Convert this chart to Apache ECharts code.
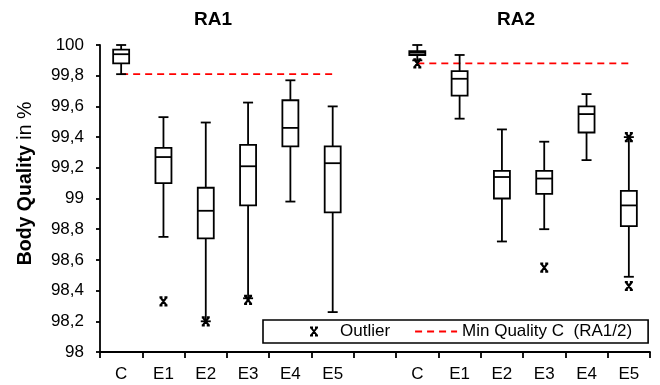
<!DOCTYPE html>
<html>
<head>
<meta charset="utf-8">
<script src="https://cdn.jsdelivr.net/npm/echarts@6/dist/echarts.min.js"></script>
<style>
html,body{margin:0;padding:0;background:#fff;}
#chart{width:660px;height:385px;}
</style>
</head>
<body>
<div id="chart"></div>
<script>
//类别 (index 6 is the gap between RA1 and RA2)
var categories = ['C','E1','E2','E3','E4','E5','','C','E1','E2','E3','E4','E5'];
var groupTitles = ['RA1','RA2'];
var yTicks = [98, 98.2, 98.4, 98.6, 98.8, 99, 99.2, 99.4, 99.6, 99.8, 100];

//box plot values
var whiskerHigh = [100.0, 99.53, 99.495, 99.625, 99.77, 99.60, null, 100.0, 99.935, 99.45, 99.37, 99.68, 99.40];
var q3          = [99.97, 99.33, 99.07, 99.35, 99.64, 99.34, null, 99.96, 99.83, 99.18, 99.18, 99.60, 99.05];
var median      = [99.94, 99.27, 98.92, 99.21, 99.46, 99.23, null, 99.95, 99.78, 99.14, 99.13, 99.55, 98.955];
var q1          = [99.88, 99.10, 98.74, 98.955, 99.34, 98.91, null, 99.935, 99.67, 99.00, 99.03, 99.43, 98.82];
var whiskerLow  = [99.81, 98.75, 98.20, 98.35, 98.98, 98.26, null, 99.90, 99.52, 98.72, 98.80, 99.25, 98.49];

//outliers [category index, value]
var outliers = [[1, 98.33], [2, 98.20], [3, 98.34], [7, 99.88], [10, 98.55], [12, 99.40], [12, 98.43]];

//min quality of C
var minQualityRA1 = 99.81;
var minQualityRA2 = 99.88;

var boxData = [];
for (var i = 0; i < categories.length; i++) {
	if (median[i] == null) continue;
	boxData.push([i, whiskerLow[i], q1[i], median[i], q3[i], whiskerHigh[i]]);
}
var minLine = [];
for (var j = 0; j < categories.length; j++) {
	if (j < 6) minLine.push(minQualityRA1);
	else if (j > 6) minLine.push(minQualityRA2);
	else minLine.push(null);
}

var FONT = "'Liberation Sans', Arial, sans-serif";
var LW = 1.8;

function renderBox(params, api) {
	var x = api.value(0);
	var lo = api.coord([x, api.value(1)]);
	var b1 = api.coord([x, api.value(2)]);
	var md = api.coord([x, api.value(3)]);
	var b3 = api.coord([x, api.value(4)]);
	var hi = api.coord([x, api.value(5)]);
	var cx = lo[0];
	var bw = 8, cw = 5;
	var st = { stroke: '#000', lineWidth: LW, fill: 'none' };
	return {
		type: 'group',
		children: [
			{ type: 'line', shape: { x1: cx, y1: hi[1], x2: cx, y2: b3[1] }, style: st },
			{ type: 'line', shape: { x1: cx, y1: b1[1], x2: cx, y2: lo[1] }, style: st },
			{ type: 'line', shape: { x1: cx - cw, y1: hi[1], x2: cx + cw, y2: hi[1] }, style: st },
			{ type: 'line', shape: { x1: cx - cw, y1: lo[1], x2: cx + cw, y2: lo[1] }, style: st },
			{ type: 'rect', shape: { x: cx - bw, y: b3[1], width: bw * 2, height: b1[1] - b3[1] },
				style: { stroke: '#000', lineWidth: LW, fill: '#fff' } },
			{ type: 'line', shape: { x1: cx - bw, y1: md[1], x2: cx + bw, y2: md[1] }, style: st }
		]
	};
}

var myChart = echarts.init(document.getElementById('chart'));
var option = {
	animation: false,
	textStyle: { fontFamily: FONT },
	title: [
		{ text: groupTitles[0], left: 194, top: 10, padding: 0,
			textStyle: { fontSize: 19, fontWeight: 'bold', color: '#000', fontFamily: FONT } },
		{ text: groupTitles[1], left: 497, top: 10, padding: 0,
			textStyle: { fontSize: 19, fontWeight: 'bold', color: '#000', fontFamily: FONT } }
	],
	legend: {
		left: 263,
		top: 320,
		width: 380,
		padding: [3, 16, 3, 46],
		itemGap: 24,
		itemWidth: 42,
		itemHeight: 8,
		borderColor: '#000',
		borderWidth: 1.6,
		borderRadius: 0,
		backgroundColor: '#fff',
		textStyle: { fontSize: 17, color: '#000', fontFamily: FONT, lineHeight: 17 },
		data: [
			{ name: 'Outlier' },
			{ name: 'Min Quality C  (RA1/2)', itemStyle: { opacity: 0 } }
		]
	},
	grid: { left: 100, right: 10, top: 45, bottom: 33 },
	xAxis: {
		type: 'category',
		data: categories,
		axisLine: { lineStyle: { color: '#000', width: LW } },
		axisTick: { show: true, length: 6, interval: 0, lineStyle: { color: '#000', width: LW } },
		axisLabel: { interval: 0, margin: 14, fontSize: 17, color: '#000', fontFamily: FONT },
		splitLine: { show: false }
	},
	yAxis: {
		type: 'value',
		min: yTicks[0],
		max: yTicks[yTicks.length - 1],
		interval: 0.2,
		name: '{b|Body Quality} {n|in %}',
		nameLocation: 'middle',
		nameGap: 64,
		nameRotate: 90,
		nameTextStyle: {
			fontSize: 19.5,
			color: '#000',
			fontFamily: FONT,
			padding: [0, 0, 0, 30],
			rich: {
				b: { fontSize: 19.5, fontWeight: 'bold', color: '#000', fontFamily: FONT },
				n: { fontSize: 19.5, fontWeight: 'normal', color: '#000', fontFamily: FONT }
			}
		},
		axisLine: { show: true, lineStyle: { color: '#000', width: LW } },
		axisTick: { show: true, length: 4, lineStyle: { color: '#000', width: LW } },
		axisLabel: {
			margin: 16, fontSize: 17, color: '#000', fontFamily: FONT,
			formatter: function (v) { return String(+v.toFixed(1)).replace('.', ','); }
		},
		splitLine: { show: false }
	},
	series: [
		{
			name: 'Min Quality C  (RA1/2)',
			type: 'line',
			data: minLine,
			symbol: 'none',
			connectNulls: false,
			lineStyle: { color: '#ff0000', width: LW, type: [7, 5] },
			itemStyle: { color: '#ff0000' },
			z: 1
		},
		{
			name: 'box',
			type: 'custom',
			renderItem: renderBox,
			data: boxData,
			encode: { x: 0, y: [1, 2, 3, 4, 5] },
			z: 2
		},
		{
			name: 'Outlier',
			type: 'scatter',
			data: outliers,
			symbol: 'path://M0,0H3M5,0H8M1,0L7,8M7,0L1,8M0,8H3M5,8H8',
			symbolSize: [8, 8],
			itemStyle: { color: '#000', borderColor: '#000', borderWidth: 2.2, opacity: 1 },
			z: 3
		}
	]
};
myChart.setOption(option);
</script>
</body>
</html>
